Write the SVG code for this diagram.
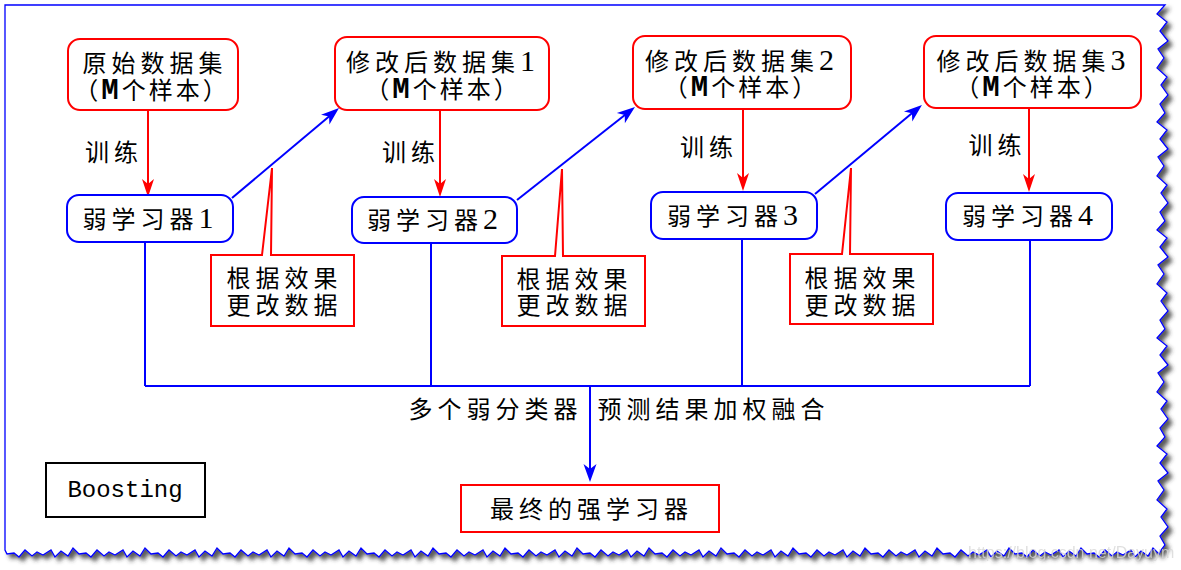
<svg xmlns="http://www.w3.org/2000/svg" width="1181" height="570" viewBox="0 0 1181 570">
<style>
.t{font-family:"Liberation Serif","Noto Sans CJK SC",serif;font-size:24px;fill:#000;text-anchor:middle;letter-spacing:5px}
.t2{letter-spacing:3px}
.d{font-size:30px}
.m{font-family:"Liberation Mono",monospace;font-weight:bold;font-size:29px}
.rb{fill:#fff;stroke:#ff0000;stroke-width:2}
.bb{fill:#fff;stroke:#0000ff;stroke-width:2}
.rl{fill:none;stroke:#ff0000;stroke-width:2}
.bl{fill:none;stroke:#0000ff;stroke-width:2}
</style>
<defs>
<filter id="sh" x="-5%" y="-5%" width="110%" height="115%">
<feDropShadow dx="4" dy="4" stdDeviation="2" flood-color="#333" flood-opacity="0.8"/>
</filter>
<marker id="ar" viewBox="-19 -7 20 14" refX="-8" refY="0" markerWidth="20" markerHeight="14" markerUnits="userSpaceOnUse" orient="auto">
<path d="M0,0 L-18,-6 L-13,0 L-18,6 Z" fill="#ff0000"/>
</marker>
<marker id="ab" viewBox="-19 -8 20 16" refX="-8" refY="0" markerWidth="20" markerHeight="16" markerUnits="userSpaceOnUse" orient="auto">
<path d="M0,0 L-18,-6.5 L-13,0 L-18,6.5 Z" fill="#0000ff"/>
</marker>
</defs>
<rect width="1181" height="570" fill="#fff"/>
<g id="page">
<path filter="url(#sh)" fill="#fff" stroke="#0000ff" stroke-width="1.3" d="M5,5 L1165,5
l-8,9 l10,8 l-7,9 l8,10 l-10,8 l6,9 l-7,10 l10,9 l-6,8 l7,10 l-8,9 l5,9
l-8,9 l10,8 l-7,9 l8,10 l-10,8 l6,9 l-7,10 l10,9 l-6,8 l7,10 l-8,9 l5,9
l-8,9 l10,8 l-7,9 l8,10 l-10,8 l6,9 l-7,10 l10,9 l-6,8 l7,10 l-8,9 l5,9
l-8,9 l10,8 l-7,9 l8,10 l-10,8 l6,9 l-7,10 l10,9 l-6,8 l7,10 l-8,9 l5,9
l-8,9 l10,8 l-7,9 l8,10 l-10,8 l6,9 l-7,10 l10,9 l-6,8 l7,10 l-8,9 l5,9
l-4,5 l-2,4
l-6,-6 l-5,8 l-7,-5 l-6,6 l-4,-7 l-8,5 l-6,-3 l-5,4 l-7,-6 l-6,7 l-5,-4 l-7,1
l-6,-6 l-5,8 l-7,-5 l-6,6 l-4,-7 l-8,5 l-6,-3 l-5,4 l-7,-6 l-6,7 l-5,-4 l-7,1
l-6,-6 l-5,8 l-7,-5 l-6,6 l-4,-7 l-8,5 l-6,-3 l-5,4 l-7,-6 l-6,7 l-5,-4 l-7,1
l-6,-6 l-5,8 l-7,-5 l-6,6 l-4,-7 l-8,5 l-6,-3 l-5,4 l-7,-6 l-6,7 l-5,-4 l-7,1
l-6,-6 l-5,8 l-7,-5 l-6,6 l-4,-7 l-8,5 l-6,-3 l-5,4 l-7,-6 l-6,7 l-5,-4 l-7,1
l-6,-6 l-5,8 l-7,-5 l-6,6 l-4,-7 l-8,5 l-6,-3 l-5,4 l-7,-6 l-6,7 l-5,-4 l-7,1
l-6,-6 l-5,8 l-7,-5 l-6,6 l-4,-7 l-8,5 l-6,-3 l-5,4 l-7,-6 l-6,7 l-5,-4 l-7,1
l-6,-6 l-5,8 l-7,-5 l-6,6 l-4,-7 l-8,5 l-6,-3 l-5,4 l-7,-6 l-6,7 l-5,-4 l-7,1
l-6,-6 l-5,8 l-7,-5 l-6,6 l-4,-7 l-8,5 l-6,-3 l-5,4 l-7,-6 l-6,7 l-5,-4 l-7,1
l-6,-6 l-5,8 l-7,-5 l-6,6 l-4,-7 l-8,5 l-6,-3 l-5,4 l-7,-6 l-6,7 l-5,-4 l-7,1
l-6,-6 l-5,8 l-7,-5 l-6,6 l-4,-7 l-8,5 l-6,-3 l-5,4 l-7,-6 l-6,7 l-5,-4 l-7,1
l-6,-6 l-5,8 l-7,-5 l-6,6 l-4,-7 l-8,5 l-6,-3 l-5,4 l-7,-6 l-6,7 l-5,-4 l-7,1
l-6,-6 l-5,8 l-7,-5 l-6,6 l-4,-7 l-8,5 l-6,-3 l-5,4 l-7,-6 l-6,7 l-5,-4 l-7,1
l-6,-6 l-5,8 l-7,-5 l-6,6 l-4,-7 l-8,5 l-6,-3 l-5,4 l-7,-6 l-6,7 l-5,-4 l-7,1
l-6,-6 l-5,8 l-7,-5 l-6,6 l-4,-7 l-8,5 l-6,-3 l-5,4 l-7,-6 l-6,7 l-5,-4 l-7,1
l-6,-6 l-5,8 l-7,-5 l-6,6 l-4,-7 l-8,5 l-6,-3 l-5,4 l-7,-6 l-6,7 l-5,-4 l-7,1
L5,550 Z"/>
</g>
<g id="connectors">
<path class="rl" marker-end="url(#ar)" d="M148,110 V189"/>
<path class="rl" marker-end="url(#ar)" d="M440,110 V189"/>
<path class="rl" marker-end="url(#ar)" d="M743,109 V183"/>
<path class="rl" marker-end="url(#ar)" d="M1029,108 V184"/>
<path class="bl" marker-end="url(#ab)" d="M232,198 L332.9,113.2"/>
<path class="bl" marker-end="url(#ab)" d="M517,200 L628.7,112.0"/>
<path class="bl" marker-end="url(#ab)" d="M815,194 L915.8,110.1"/>
<path class="bl" d="M145,242 V386 M431,243 V386 M742,239 V386 M1030,240 V386 M145,386 H1030"/>
<path class="bl" marker-end="url(#ab)" d="M590,386 V474"/>
</g>
<g id="data0">
<rect class="rb" x="68" y="39" width="170" height="71" rx="12"/>
<text class="t" x="155" y="72">原始数据集</text>
<text class="t t2" x="152" y="99">（<tspan class="m">M</tspan>个样本）</text>
</g>
<g id="data1">
<rect class="rb" x="335" y="37" width="214" height="73" rx="12"/>
<text class="t" x="443" y="70.5">修改后数据集<tspan class="d">1</tspan></text>
<text class="t t2" x="443" y="97.5">（<tspan class="m">M</tspan>个样本）</text>
</g>
<g id="data2">
<rect class="rb" x="633" y="36" width="218" height="73" rx="12"/>
<text class="t" x="742" y="70">修改后数据集<tspan class="d">2</tspan></text>
<text class="t t2" x="741.5" y="96">（<tspan class="m">M</tspan>个样本）</text>
</g>
<g id="data3">
<rect class="rb" x="924" y="36" width="217" height="72" rx="12"/>
<text class="t" x="1033.5" y="70">修改后数据集<tspan class="d">3</tspan></text>
<text class="t t2" x="1033" y="96">（<tspan class="m">M</tspan>个样本）</text>
</g>
<g id="train-labels">
<text class="t" x="114" y="161">训练</text>
<text class="t" x="411" y="161">训练</text>
<text class="t" x="709" y="156">训练</text>
<text class="t" x="997.5" y="154">训练</text>
</g>
<g id="learner1">
<rect class="bb" x="67" y="195" width="166" height="47" rx="12"/>
<text class="t" x="150.5" y="228">弱学习器<tspan class="d">1</tspan></text>
</g>
<g id="learner2">
<rect class="bb" x="352" y="197" width="165" height="46" rx="12"/>
<text class="t" x="435" y="229">弱学习器<tspan class="d">2</tspan></text>
</g>
<g id="learner3">
<rect class="bb" x="651" y="192" width="166" height="47" rx="12"/>
<text class="t" x="735" y="225">弱学习器<tspan class="d">3</tspan></text>
</g>
<g id="learner4">
<rect class="bb" x="946" y="193" width="166" height="47" rx="12"/>
<text class="t" x="1030" y="225">弱学习器<tspan class="d">4</tspan></text>
</g>
<g id="callout1">
<path class="rb" d="M211,255 L262,255 L272,168 L271,255 L354,255 L354,326 L211,326 Z"/>
<text class="t" x="284.5" y="287">根据效果</text>
<text class="t" x="284.5" y="314">更改数据</text>
</g>
<g id="callout2">
<path class="rb" d="M502,256 L555,256 L562,169 L563,256 L645,256 L645,326 L502,326 Z"/>
<text class="t" x="574.5" y="288">根据效果</text>
<text class="t" x="574.5" y="314">更改数据</text>
</g>
<g id="callout3">
<path class="rb" d="M790,254 L842,254 L851,168 L850,254 L933,254 L933,324 L790,324 Z"/>
<text class="t" x="862.5" y="287">根据效果</text>
<text class="t" x="862.5" y="314">更改数据</text>
</g>
<g id="bus-labels">
<text class="t" x="495.5" y="417.5">多个弱分类器</text>
<text class="t" x="713.5" y="417.5">预测结果加权融合</text>
</g>
<g id="final">
<rect x="461" y="485" width="258" height="47" fill="#fff" stroke="#ff0000" stroke-width="2"/>
<text class="t" x="591.5" y="517.5">最终的强学习器</text>
</g>
<g id="boosting">
<rect x="46" y="463" width="159" height="54" fill="#fff" stroke="#000" stroke-width="2"/>
<text x="125" y="497" font-family="Liberation Mono, monospace" font-size="24" text-anchor="middle" fill="#000">Boosting</text>
</g>
<text x="968" y="558" font-family="Liberation Sans, sans-serif" font-size="16" fill="#d8d8d8" opacity="0.8">https://blog.csdn.net/Dayuym</text>
</svg>
